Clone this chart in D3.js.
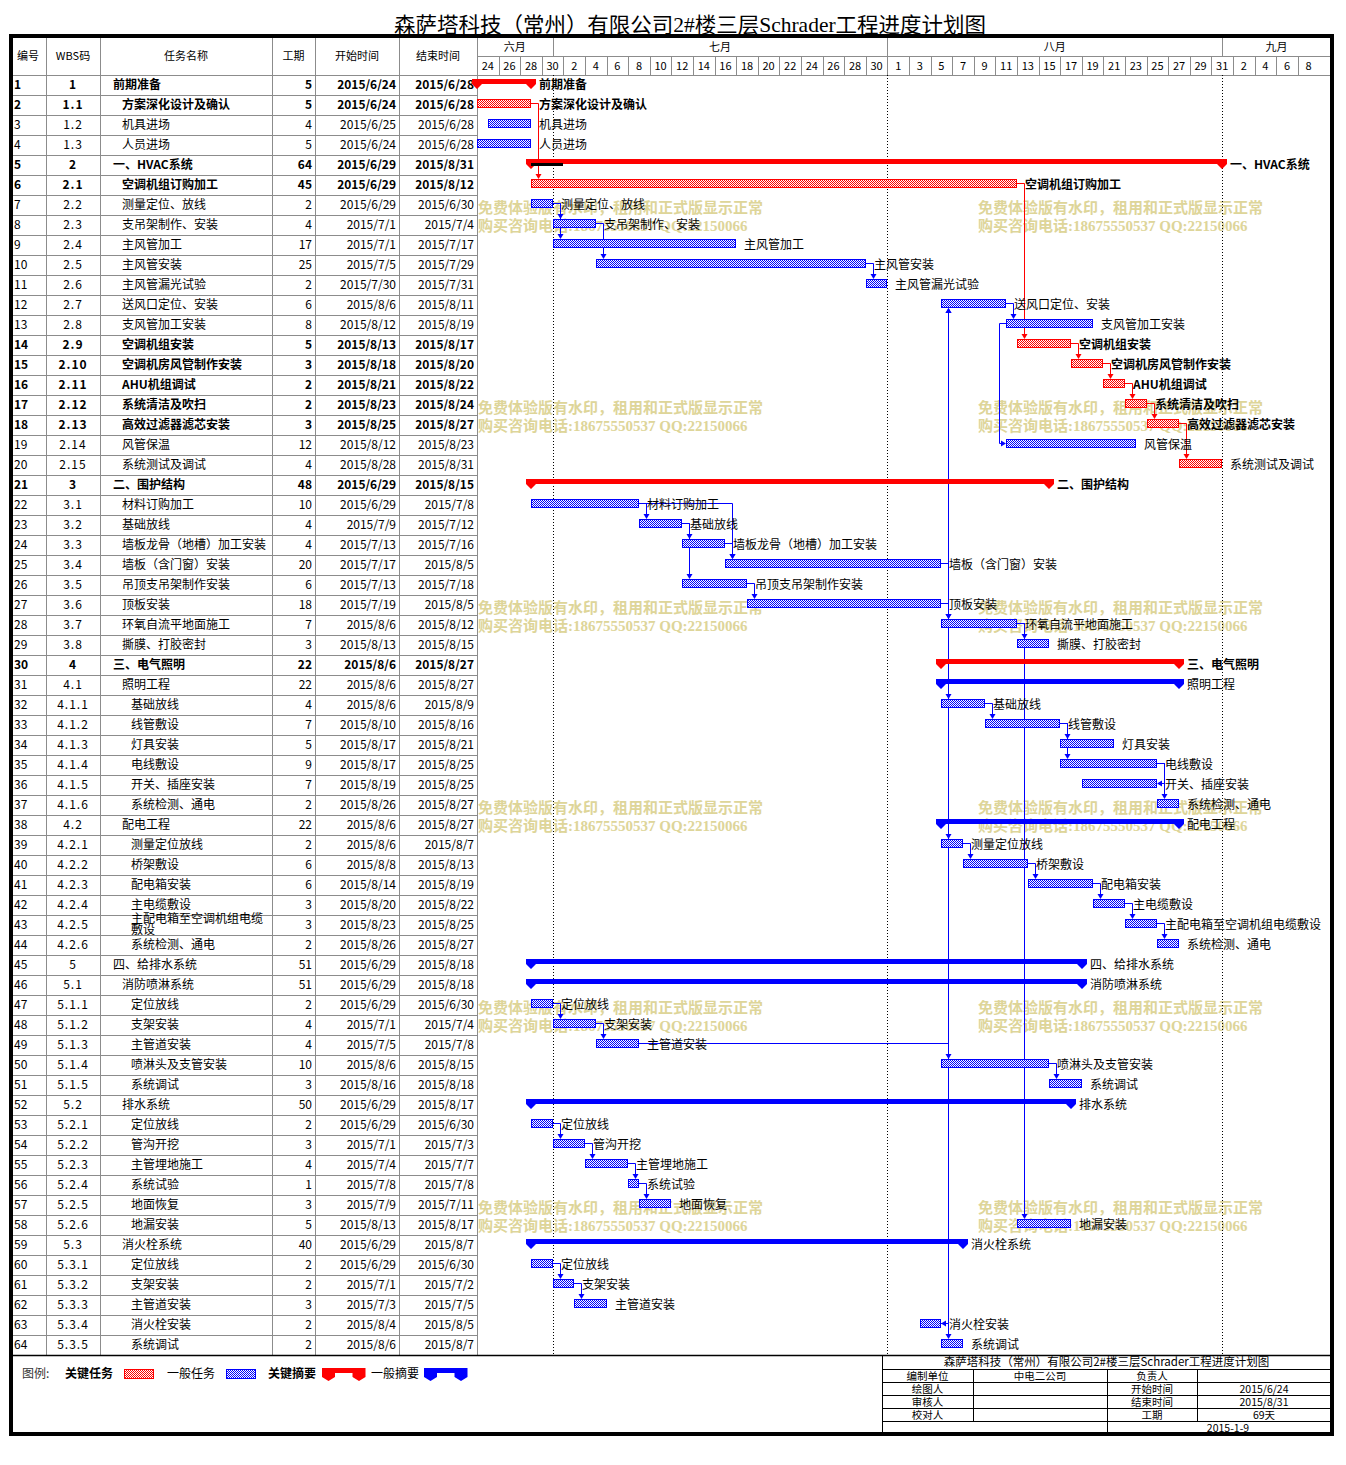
<!DOCTYPE html>
<html>
<head>
<meta charset="utf-8">
<title>森萨塔科技（常州）有限公司2#楼三层Schrader工程进度计划图</title>
<script src="https://cdn.jsdelivr.net/npm/d3@7"></script>
<style>
  body { margin: 0; background: #fff; }
  svg text { font-family: "Noto Sans CJK SC", sans-serif; fill: #000; }
</style>
</head>
<body>
<div id="gantt"></div>
<script>
// ---- values ----
var wbsCodes = ["1","1.1","1.2","1.3","2","2.1","2.2","2.3","2.4","2.5","2.6","2.7","2.8","2.9","2.10","2.11","2.12","2.13","2.14","2.15",
  "3","3.1","3.2","3.3","3.4","3.5","3.6","3.7","3.8","4","4.1","4.1.1","4.1.2","4.1.3","4.1.4","4.1.5","4.1.6","4.2","4.2.1","4.2.2","4.2.3","4.2.4","4.2.5","4.2.6",
  "5","5.1","5.1.1","5.1.2","5.1.3","5.1.4","5.1.5","5.2","5.2.1","5.2.2","5.2.3","5.2.4","5.2.5","5.2.6","5.3","5.3.1","5.3.2","5.3.3","5.3.4","5.3.5"];
var taskNames = ["前期准备","方案深化设计及确认","机具进场","人员进场","一、HVAC系统","空调机组订购加工","测量定位、放线","支吊架制作、安装","主风管加工","主风管安装",
  "主风管漏光试验","送风口定位、安装","支风管加工安装","空调机组安装","空调机房风管制作安装","AHU机组调试","系统清洁及吹扫","高效过滤器滤芯安装","风管保温","系统测试及调试",
  "二、围护结构","材料订购加工","基础放线","墙板龙骨（地槽）加工安装","墙板（含门窗）安装","吊顶支吊架制作安装","顶板安装","环氧自流平地面施工","撕膜、打胶密封",
  "三、电气照明","照明工程","基础放线","线管敷设","灯具安装","电线敷设","开关、插座安装","系统检测、通电","配电工程","测量定位放线","桥架敷设","配电箱安装","主电缆敷设","主配电箱至空调机组电缆敷设","系统检测、通电",
  "四、给排水系统","消防喷淋系统","定位放线","支架安装","主管道安装","喷淋头及支管安装","系统调试","排水系统","定位放线","管沟开挖","主管埋地施工","系统试验","地面恢复","地漏安装",
  "消火栓系统","定位放线","支架安装","主管道安装","消火栓安装","系统调试"];
var durations = [5,5,4,5,64,45,2,4,17,25,2,6,8,5,3,2,2,3,12,4,48,10,4,4,20,6,18,7,3,22,22,4,7,5,9,7,2,22,2,6,6,3,3,2,51,51,2,4,4,10,3,50,2,3,4,1,3,5,40,2,2,3,2,2];
var startDates = ["2015/6/24","2015/6/24","2015/6/25","2015/6/24","2015/6/29","2015/6/29","2015/6/29","2015/7/1","2015/7/1","2015/7/5",
  "2015/7/30","2015/8/6","2015/8/12","2015/8/13","2015/8/18","2015/8/21","2015/8/23","2015/8/25","2015/8/12","2015/8/28",
  "2015/6/29","2015/6/29","2015/7/9","2015/7/13","2015/7/17","2015/7/13","2015/7/19","2015/8/6","2015/8/13",
  "2015/8/6","2015/8/6","2015/8/6","2015/8/10","2015/8/17","2015/8/17","2015/8/19","2015/8/26","2015/8/6","2015/8/6","2015/8/8","2015/8/14","2015/8/20","2015/8/23","2015/8/26",
  "2015/6/29","2015/6/29","2015/6/29","2015/7/1","2015/7/5","2015/8/6","2015/8/16","2015/6/29","2015/6/29","2015/7/1","2015/7/4","2015/7/8","2015/7/9","2015/8/13",
  "2015/6/29","2015/6/29","2015/7/1","2015/7/3","2015/8/4","2015/8/6"];
var endDates = ["2015/6/28","2015/6/28","2015/6/28","2015/6/28","2015/8/31","2015/8/12","2015/6/30","2015/7/4","2015/7/17","2015/7/29",
  "2015/7/31","2015/8/11","2015/8/19","2015/8/17","2015/8/20","2015/8/22","2015/8/24","2015/8/27","2015/8/23","2015/8/31",
  "2015/8/15","2015/7/8","2015/7/12","2015/7/16","2015/8/5","2015/7/18","2015/8/5","2015/8/12","2015/8/15",
  "2015/8/27","2015/8/27","2015/8/9","2015/8/16","2015/8/21","2015/8/25","2015/8/25","2015/8/27","2015/8/27","2015/8/7","2015/8/13","2015/8/19","2015/8/22","2015/8/25","2015/8/27",
  "2015/8/18","2015/8/18","2015/6/30","2015/7/4","2015/7/8","2015/8/15","2015/8/18","2015/8/17","2015/6/30","2015/7/3","2015/7/7","2015/7/8","2015/7/11","2015/8/17",
  "2015/8/7","2015/6/30","2015/7/2","2015/7/5","2015/8/5","2015/8/7"];
// KS 关键摘要, S 一般摘要, K 关键任务, T 一般任务
var barKinds = ["KS","K","T","T","KS","K","T","T","T","T","T","T","T","K","K","K","K","K","T","K",
  "KS","T","T","T","T","T","T","T","T","KS","S","T","T","T","T","T","T","S","T","T","T","T","T","T",
  "S","S","T","T","T","T","T","S","T","T","T","T","T","T","S","T","T","T","T","T"];
var boldRows = [1,2,5,6,14,15,16,17,18,21,30];
var progressRows = [5];
var progressEnds = ["2015/7/1"];
// predecessor, successor, link type
var links = [[2,6],[6,14],[7,8],[7,9],[8,10],[10,11],[25,12],[27,12],[12,13],[13,19,"SS"],[14,15],[15,16],[16,17],[17,18],[18,20],
  [22,23],[22,25],[23,24],[23,26],[24,25],[26,27],[25,28],[27,28],[28,29],[28,58],[27,32],[27,39],
  [32,33],[33,34],[33,35],[35,36,"FF"],[35,37],[39,40],[40,41],[41,42],[42,43],[43,44],
  [47,48],[48,49],[49,50],[50,51],[53,54],[54,55],[55,56],[56,57],[60,61],[61,62],[27,63,"FF"],[63,64]];
var monthNames = ["六月","七月","八月","九月"];
var monthStarts = ["2015/6/24","2015/7/1","2015/8/1","2015/9/1"];
var headerLabels = ["编号","WBS码","任务名称","工期","开始时间","结束时间"];
var legendLabels = ["关键任务","一般任务","关键摘要","一般摘要"];
var watermarkLines = ["免费体验版有水印，租用和正式版显示正常","购买咨询电话:18675550537 QQ:22150066"];
var infoLeft = ["编制单位","绘图人","审核人","校对人"];
var infoLeftVal = ["中电二公司","","",""];
var infoRight = ["负责人","开始时间","结束时间","工期"];
var infoRightVal = ["","2015/6/24","2015/8/31","69天"];
var infoDate = "2015-1-9";
var titleText = "森萨塔科技（常州）有限公司2#楼三层Schrader工程进度计划图";

// ---- layout ----
var W = 1346, H = 1465;
var cols = [10, 46, 100, 272, 315, 399, 477];
var chartR = 1331, tableTop = 37, monthBot = 56, headBot = 75, tableBot = 1355;
var RED = "#ff0000", BLUE = "#0000ff", GRID = "#8c8c8c";

var parse = d3.timeParse("%Y/%m/%d");
var t0 = parse("2015/6/24"), t1 = parse("2015/9/11");
var x = d3.scaleTime().domain([t0, t1]).range([477, 477 + 79 * 10.8]);
var y = d3.scaleBand().domain(d3.range(1, 65)).range([headBot, tableBot]);

var tasks = taskNames.map(function (n, i) {
  return {
    id: i + 1, wbs: wbsCodes[i], name: n, dur: durations[i],
    start: startDates[i], end: endDates[i],
    s: parse(startDates[i]), e: d3.timeDay.offset(parse(endDates[i]), 1),
    kind: barKinds[i], bold: boldRows.indexOf(i + 1) >= 0,
    level: wbsCodes[i].split(".").length - 1
  };
});
var byId = {};
tasks.forEach(function (t) { byId[t.id] = t; });
function cy(id) { return y(id) + 10; }
function isRed(t) { return t.kind === "K" || t.kind === "KS"; }

var svg = d3.select("#gantt").append("svg").attr("width", W).attr("height", H);
var defs = svg.append("defs");
function checker(id, color) {
  var p = defs.append("pattern").attr("id", id).attr("width", 2).attr("height", 2)
    .attr("patternUnits", "userSpaceOnUse");
  p.append("rect").attr("width", 2).attr("height", 2).attr("fill", "#fff");
  p.append("rect").attr("width", 1).attr("height", 1).attr("fill", color);
  p.append("rect").attr("x", 1).attr("y", 1).attr("width", 1).attr("height", 1).attr("fill", color);
}
checker("redChk", RED);
checker("blueChk", BLUE);

svg.append("rect").attr("width", W).attr("height", H).attr("fill", "#fff");

// title
svg.append("text").attr("x", 690).attr("y", 32).attr("text-anchor", "middle")
  .style("font-size", "21px").style("font-family", "'Liberation Serif','Noto Sans CJK SC'")
  .attr("textLength", 592).attr("lengthAdjust", "spacingAndGlyphs")
  .text(titleText);

// watermark (under everything)
var wm = svg.append("g").attr("opacity", 0.8);
d3.range(6).forEach(function (k) {
  [478, 978].forEach(function (wx) {
    watermarkLines.forEach(function (line, j) {
      wm.append("text").attr("x", wx).attr("y", 213 + k * 200 + j * 18)
        .style("font-size", "15px").style("font-weight", "bold")
        .style("fill", "#d6cb80")
        .style("font-family", "'Liberation Serif','Noto Sans CJK SC'")
        .text(line);
    });
  });
});

// ---- table grid ----
var grid = svg.append("g").attr("stroke", GRID).attr("stroke-width", 1).attr("shape-rendering", "crispEdges");
cols.forEach(function (cx) {
  grid.append("line").attr("x1", cx + 0.5).attr("x2", cx + 0.5).attr("y1", tableTop).attr("y2", tableBot);
});
d3.range(1, 65).forEach(function (id) {
  grid.append("line").attr("x1", 10).attr("x2", 477).attr("y1", y(id) + 0.5).attr("y2", y(id) + 0.5);
});
grid.append("line").attr("x1", 477).attr("x2", chartR).attr("y1", headBot + 0.5).attr("y2", headBot + 0.5);
grid.append("line").attr("x1", 477).attr("x2", chartR).attr("y1", monthBot + 0.5).attr("y2", monthBot + 0.5);

// month header
var ms = monthStarts.map(parse);
ms.forEach(function (d, i) {
  var a = x(d), b = i < ms.length - 1 ? x(ms[i + 1]) : chartR;
  if (i > 0) grid.append("line").attr("x1", Math.round(a) + 0.5).attr("x2", Math.round(a) + 0.5)
    .attr("y1", tableTop).attr("y2", monthBot);
  svg.append("text").attr("x", (a + b) / 2).attr("y", 51).attr("text-anchor", "middle")
    .style("font-size", "11px").text(monthNames[i]);
});
// day header (2-day cells)
var dayCells = d3.timeDay.range(t0, d3.timeDay.offset(t1, -1), 2);
dayCells.forEach(function (d, i) {
  var a = x(d), b = Math.min(x(d3.timeDay.offset(d, 2)), chartR);
  if (i > 0) grid.append("line").attr("x1", Math.round(a) + 0.5).attr("x2", Math.round(a) + 0.5)
    .attr("y1", monthBot).attr("y2", headBot);
  if (b - a > 15) svg.append("text").attr("x", (a + b) / 2).attr("y", 70).attr("text-anchor", "middle")
    .style("font-size", "11px").text(d.getDate());
});
// left header labels
headerLabels.forEach(function (h, i) {
  svg.append("text").attr("x", (cols[i] + cols[i + 1]) / 2).attr("y", 60).attr("text-anchor", "middle")
    .style("font-size", "11px").text(h);
});

// ---- table rows ----
var rows = svg.append("g").selectAll("g").data(tasks).enter().append("g")
  .style("font-size", "12px").style("font-weight", function (d) { return d.bold ? "bold" : "normal"; });
rows.append("text").attr("x", 14).attr("y", function (d) { return cy(d.id) + 4; }).text(function (d) { return d.id; });
rows.append("text").attr("x", 73).attr("y", function (d) { return cy(d.id) + 4; }).attr("text-anchor", "middle")
  .style("letter-spacing", "1px").text(function (d) { return d.wbs; });
rows.each(function (d) {
  var nx = 113 + d.level * 9;
  var maxC = Math.floor((cols[3] - 2 - nx) / 12);
  var g = d3.select(this);
  if (d.name.length > maxC) {
    g.append("text").attr("x", nx).attr("y", cy(d.id) - 2).text(d.name.slice(0, maxC));
    g.append("text").attr("x", nx).attr("y", cy(d.id) + 9).text(d.name.slice(maxC));
  } else {
    g.append("text").attr("x", nx).attr("y", cy(d.id) + 4).text(d.name);
  }
});
rows.append("text").attr("x", 312).attr("y", function (d) { return cy(d.id) + 4; }).attr("text-anchor", "end").text(function (d) { return d.dur; });
rows.append("text").attr("x", 396).attr("y", function (d) { return cy(d.id) + 4; }).attr("text-anchor", "end").text(function (d) { return d.start; });
rows.append("text").attr("x", 474).attr("y", function (d) { return cy(d.id) + 4; }).attr("text-anchor", "end").text(function (d) { return d.end; });

// ---- month dotted lines ----
ms.slice(1).forEach(function (d) {
  svg.append("line").attr("x1", Math.round(x(d)) + 0.5).attr("x2", Math.round(x(d)) + 0.5)
    .attr("y1", headBot).attr("y2", tableBot).attr("stroke", "#000").attr("stroke-dasharray", "1,2");
});

// ---- links ----
var lg = svg.append("g").attr("fill", "none").attr("stroke-width", 1);
links.forEach(function (l) {
  var p = byId[l[0]], s = byId[l[1]], type = l[2] || "FS";
  var col = isRed(p) && isRed(s) ? RED : BLUE;
  var py = cy(p.id) - 1.5, sy = cy(s.id) - 1.5;
  var ps = Math.round(x(p.s)), pe = Math.round(x(p.e)), ss = Math.round(x(s.s)), se = Math.round(x(s.e));
  var path, head, vx;
  if (type === "SS") {
    vx = Math.min(ps, ss) - 6.5;
    path = "M" + ps + "," + py + "H" + vx + "V" + sy + "H" + (ss - 5);
    head = [[ss - 5, sy - 3], [ss - 5, sy + 3], [ss, sy]];
  } else if (type === "FF") {
    vx = Math.max(pe, se) + 7.5;
    path = "M" + pe + "," + py + "H" + vx + "V" + sy + "H" + (se + 5);
    head = [[se + 5, sy - 3], [se + 5, sy + 3], [se, sy]];
  } else {
    vx = Math.max(pe, ss) + 7.5;
    var down = s.id > p.id;
    var ty = down ? cy(s.id) - 6 : cy(s.id) + 3;
    var hy = down ? ty - 5 : ty + 5;
    path = "M" + pe + "," + py + "H" + vx + "V" + hy;
    head = [[vx - 3, hy], [vx + 3, hy], [vx, ty]];
  }
  lg.append("path").attr("d", path).attr("stroke", col);
  lg.append("path").attr("d", "M" + head.join("L") + "Z").attr("fill", col).attr("stroke", "none");
});

// ---- bars ----
function summaryShape(a, b, top, barH, hw, tip) {
  var bot = top + barH;
  return "M" + (a - hw) + "," + top + "H" + (b + hw) + "V" + bot + "L" + b + "," + (bot + tip) +
    "L" + (b - hw) + "," + bot + "H" + (a + hw) + "L" + a + "," + (bot + tip) + "L" + (a - hw) + "," + bot + "Z";
}
var bars = svg.append("g");
tasks.forEach(function (t) {
  var a = Math.round(x(t.s)), b = Math.round(x(t.e)), c = cy(t.id);
  if (t.kind === "KS" || t.kind === "S") {
    bars.append("path").attr("d", summaryShape(a, b, c - 6, 5, 5, 5))
      .attr("fill", t.kind === "KS" ? RED : BLUE);
  } else {
    bars.append("rect").attr("x", a + 0.5).attr("y", c - 5.5).attr("width", b - a - 1).attr("height", 8)
      .attr("fill", t.kind === "K" ? "url(#redChk)" : "url(#blueChk)")
      .attr("stroke", t.kind === "K" ? RED : BLUE).attr("stroke-width", 1);
  }
  bars.append("text").attr("x", b + 8).attr("y", c + 4)
    .style("font-size", "12px").style("font-weight", t.bold ? "bold" : "normal")
    .text(t.name);
});
progressRows.forEach(function (id, i) {
  var t = byId[id];
  var a = Math.round(x(t.s)), b = Math.round(x(d3.timeDay.offset(parse(progressEnds[i]), 1)));
  bars.append("rect").attr("x", a).attr("y", cy(id) - 2).attr("width", b - a).attr("height", 3).attr("fill", "#000");
});

// ---- bottom area ----
svg.append("line").attr("x1", 10).attr("x2", chartR).attr("y1", tableBot + 0.5).attr("y2", tableBot + 0.5)
  .attr("stroke", "#000").attr("stroke-width", 1.5);

// legend
var lgY = 1378;
svg.append("text").attr("x", 22).attr("y", lgY).style("font-size", "12px").style("fill", "#333").text("图例:");
var legX = [65, 167, 268, 371];
legendLabels.forEach(function (lab, i) {
  svg.append("text").attr("x", legX[i]).attr("y", lgY).style("font-size", "12px")
    .style("font-weight", i % 2 === 0 ? "bold" : "normal").text(lab);
});
svg.append("rect").attr("x", 124.5).attr("y", 1369.5).attr("width", 29).attr("height", 9)
  .attr("fill", "url(#redChk)").attr("stroke", RED);
svg.append("rect").attr("x", 226.5).attr("y", 1369.5).attr("width", 29).attr("height", 9)
  .attr("fill", "url(#blueChk)").attr("stroke", BLUE);
svg.append("path").attr("d", summaryShape(328.5, 359, 1368, 9, 6.5, 4)).attr("fill", RED);
svg.append("path").attr("d", summaryShape(430.5, 461, 1368, 9, 6.5, 4)).attr("fill", BLUE);
// the summary icons have a notch between the ends
svg.append("rect").attr("x", 335).attr("y", 1373).attr("width", 17.5).attr("height", 5).attr("fill", "#fff");
svg.append("rect").attr("x", 437).attr("y", 1373).attr("width", 17.5).attr("height", 5).attr("fill", "#fff");

// info table
var iy = [1355, 1369, 1382, 1395, 1408, 1421, 1434];
var ix = [882, 973, 1107, 1197, 1331];
var info = svg.append("g").attr("stroke", "#000").attr("stroke-width", 1).attr("shape-rendering", "crispEdges");
info.append("line").attr("x1", ix[0] + 0.5).attr("x2", ix[0] + 0.5).attr("y1", iy[0]).attr("y2", iy[6]);
iy.slice(1, 6).forEach(function (yy) {
  info.append("line").attr("x1", ix[0]).attr("x2", ix[4]).attr("y1", yy + 0.5).attr("y2", yy + 0.5);
});
[1, 2, 3].forEach(function (k) {
  info.append("line").attr("x1", ix[k] + 0.5).attr("x2", ix[k] + 0.5).attr("y1", iy[1]).attr("y2", iy[5]);
});
info.append("line").attr("x1", ix[2] + 0.5).attr("x2", ix[2] + 0.5).attr("y1", iy[5]).attr("y2", iy[6]);
svg.append("text").attr("x", (ix[0] + ix[4]) / 2).attr("y", iy[0] + 11).attr("text-anchor", "middle")
  .style("font-size", "11.5px").text(titleText);
function infoCell(txt, k, r) {
  svg.append("text").attr("x", (ix[k] + ix[k + 1]) / 2).attr("y", iy[r] + 10.5).attr("text-anchor", "middle")
    .style("font-size", "10.5px").text(txt);
}
infoLeft.forEach(function (t, i) {
  infoCell(t, 0, i + 1); infoCell(infoLeftVal[i], 1, i + 1);
  infoCell(infoRight[i], 2, i + 1); infoCell(infoRightVal[i], 3, i + 1);
});
svg.append("text").attr("x", 1228).attr("y", iy[5] + 10.5).attr("text-anchor", "middle")
  .style("font-size", "10.5px").text(infoDate);

// outer frame
svg.append("rect").attr("x", 11).attr("y", 36).attr("width", 1321).attr("height", 1398)
  .attr("fill", "none").attr("stroke", "#000").attr("stroke-width", 4);
</script>
</body>
</html>
